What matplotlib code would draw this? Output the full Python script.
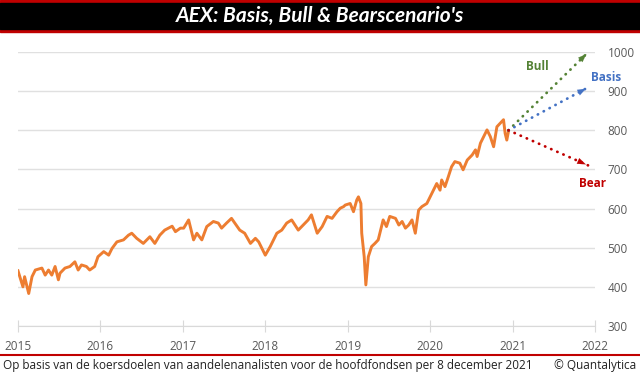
import matplotlib.pyplot as plt
from matplotlib.lines import Line2D
from matplotlib.patches import Rectangle

# Data (years as shown on the chart's axis, AEX index level)
jaren = [2015.00, 2015.06, 2015.08, 2015.13, 2015.17, 2015.21, 2015.29, 2015.33, 2015.37, 2015.41,
         2015.45, 2015.49, 2015.51, 2015.57, 2015.63, 2015.69, 2015.73, 2015.77, 2015.83, 2015.87,
         2015.93, 2015.97, 2016.04, 2016.10, 2016.14, 2016.20, 2016.28, 2016.34, 2016.38, 2016.44,
         2016.52, 2016.60, 2016.66, 2016.72, 2016.78, 2016.87, 2016.91, 2016.97, 2017.01, 2017.07,
         2017.13, 2017.17, 2017.23, 2017.29, 2017.37, 2017.43, 2017.47, 2017.53, 2017.59, 2017.63,
         2017.69, 2017.75, 2017.82, 2017.88, 2017.92, 2018.00, 2018.06, 2018.14, 2018.20, 2018.26,
         2018.32, 2018.36, 2018.40, 2018.46, 2018.52, 2018.56, 2018.63, 2018.69, 2018.75, 2018.81,
         2018.87, 2018.91, 2018.95, 2018.97, 2019.03, 2019.07, 2019.11, 2019.13, 2019.16, 2019.17,
         2019.20, 2019.22, 2019.25, 2019.29, 2019.33, 2019.37, 2019.39, 2019.43, 2019.47, 2019.51,
         2019.58, 2019.62, 2019.66, 2019.70, 2019.74, 2019.78, 2019.82, 2019.86, 2019.90, 2019.96,
         2020.00, 2020.04, 2020.08, 2020.12, 2020.14, 2020.18, 2020.22, 2020.26, 2020.30, 2020.36,
         2020.40, 2020.45, 2020.51, 2020.55, 2020.57, 2020.61, 2020.65, 2020.69, 2020.73, 2020.77,
         2020.81, 2020.85, 2020.89, 2020.91, 2020.93, 2020.95]
aex = [441, 400, 426, 383, 426, 443, 448, 430, 443, 430,
       452, 418, 435, 448, 452, 464, 443, 456, 452, 443,
       452, 477, 490, 481, 498, 515, 520, 532, 537, 524,
       511, 528, 511, 532, 545, 555, 541, 550, 550, 571,
       520, 537, 520, 554, 567, 563, 550, 563, 575, 563,
       545, 537, 511, 524, 515, 481, 503, 537, 545, 563,
       571, 558, 545, 558, 571, 584, 537, 554, 580, 575,
       592, 601, 605, 609, 613, 592, 622, 630, 613, 537,
       477, 405, 477, 503, 511, 520, 537, 571, 554, 580,
       575, 558, 567, 550, 558, 571, 537, 596, 605, 613,
       630, 647, 664, 647, 673, 656, 681, 707, 720, 716,
       699, 724, 737, 750, 733, 767, 784, 801, 784, 758,
       809, 818, 827, 792, 775, 797]

scenario_namen = ['Bull', 'Basis', 'Bear']
scenario_start = (2020.95, 800)
scenario_eind_jaar = 2021.92
scenario_eind = [1000, 910, 710]
scenario_kleuren = ['#548235', '#4472c4', '#c00000']
label_pos = [(2021.30, 962), (2022.14, 936), (2021.97, 663)]

x_ticks = [2015, 2016, 2017, 2018, 2019, 2020, 2021, 2022]
y_ticks = [300, 400, 500, 600, 700, 800, 900, 1000]

titel = "AEX: Basis, Bull & Bearscenario's"
voetnoot = 'Op basis van de koersdoelen van aandelenanalisten voor de hoofdfondsen per 8 december 2021'
bron = '© Quantalytica'

W, H = 640, 376
fig = plt.figure(figsize=(W / 100, H / 100), dpi=100)
fig.patch.set_facecolor('white')

# titelbalk
fig.add_artist(Rectangle((0, 1 - 32 / H), 1, 32 / H, transform=fig.transFigure, color='#c00000', zorder=0))
fig.add_artist(Rectangle((0, 1 - 29 / H), 1, 26 / H, transform=fig.transFigure, color='black', zorder=1))
fig.text(0.5, 1 - 16 / H, titel, color='white', fontsize=15, fontweight='bold', style='italic',
         family='Lato', ha='center', va='center')

# grafiek
ax = fig.add_axes([18 / W, 50 / H, (595 - 18) / W, (326 - 52) / H])
ax.plot(jaren, aex, color='#ed7d31', lw=2.1, solid_joinstyle='round', zorder=3)

for naam, eind, kleur, pos in zip(scenario_namen, scenario_eind, scenario_kleuren, label_pos):
    ax.plot([scenario_start[0], scenario_eind_jaar], [scenario_start[1], eind], color=kleur,
            lw=2.0, ls=(0, (0.1, 2.3)), dash_capstyle='round', zorder=4)
    dx = scenario_eind_jaar - scenario_start[0]
    dy = eind - scenario_start[1]
    ax.annotate('', xy=(scenario_eind_jaar, eind),
                xytext=(scenario_eind_jaar - dx * 0.12, eind - dy * 0.12),
                arrowprops=dict(arrowstyle='-|>,head_length=0.6,head_width=0.22', color=kleur, lw=0.1),
                zorder=5)
    ax.text(pos[0], pos[1], naam, color=kleur, fontsize=8.5, fontweight='bold', family='Open Sans',
            ha='center', va='center', clip_on=False)

ax.set_xlim(2015, 2022)
ax.set_ylim(300, 1000)
ax.set_xticks(x_ticks)
ax.set_xticklabels([str(j) for j in x_ticks])
ax.set_yticks(y_ticks)
ax.yaxis.tick_right()
ax.grid(axis='y', color='#e0e0e0', lw=1.0)
for kant in ['top', 'left', 'right']:
    ax.spines[kant].set_visible(False)
ax.spines['bottom'].set_color('#d9d9d9')
ax.tick_params(axis='x', direction='inout', length=8, color='#d9d9d9', labelsize=8.5,
               labelcolor='#595959', pad=6)
ax.tick_params(axis='y', length=0, labelsize=8.5, labelcolor='#595959', pad=9)
for lbl in ax.get_xticklabels() + ax.get_yticklabels():
    lbl.set_family('Open Sans')
for lbl in ax.get_yticklabels():
    lbl.set_ha('left')

# voetnoot
fig.add_artist(Line2D([0, 1], [1 - 355 / H, 1 - 355 / H], transform=fig.transFigure, color='#c00000', lw=1.5))
fig.text(3 / W, 1 - 366 / H, voetnoot, fontsize=8.5, family='Open Sans', color='#222222', va='center', ha='left')
fig.text(1 - 4 / W, 1 - 366 / H, bron, fontsize=8.5, family='Open Sans', color='#222222', va='center', ha='right')

fig.savefig('out.png', dpi=100)
